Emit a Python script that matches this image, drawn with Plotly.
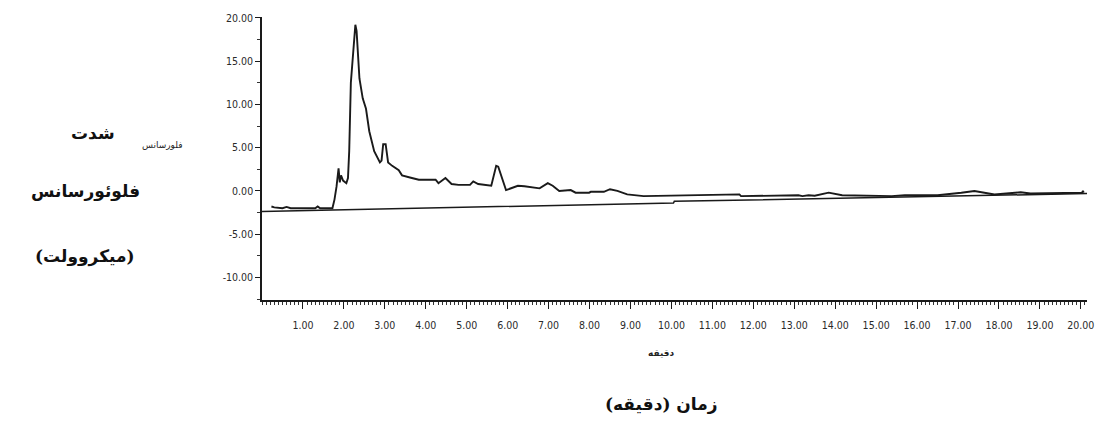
import plotly.graph_objects as go

# ---- data ----
time_min = [0.23, 0.3, 0.5, 0.6, 0.7, 1.3, 1.36, 1.42, 1.72, 1.77, 1.82, 1.87, 1.9, 1.93, 1.98,
            2.06, 2.1, 2.13, 2.17, 2.24, 2.28, 2.31, 2.35, 2.38, 2.46, 2.54, 2.62, 2.74, 2.88,
            2.92, 2.96, 3.02, 3.08, 3.18, 3.34, 3.42, 3.66, 3.83, 4.24, 4.31, 4.48, 4.63, 4.8,
            5.08, 5.16, 5.28, 5.6, 5.72, 5.77, 5.96, 6.25, 6.41, 6.78, 6.98, 7.1, 7.26, 7.54,
            7.66, 7.99, 8.03, 8.35, 8.5, 8.68, 8.92, 9.32, 11.66, 11.7, 13.1, 13.2, 13.35, 13.5,
            13.84, 14.17, 15.38, 15.7, 16.5, 17.08, 17.4, 17.89, 18.53, 18.77, 20.03, 20.05, 20.07]
signal_uv = [-1.8, -1.9, -2.0, -1.85, -2.0, -2.0, -1.8, -2.0, -2.0, -1.0, 0.5, 2.6, 1.0, 1.8, 1.2,
             0.9, 1.5, 4.6, 12.5, 17.0, 19.2, 18.5, 16.0, 13.0, 10.7, 9.5, 6.9, 4.6, 3.3,
             3.5, 5.4, 5.4, 3.3, 2.9, 2.4, 1.8, 1.5, 1.3, 1.3, 0.9, 1.5, 0.8, 0.7,
             0.7, 1.1, 0.8, 0.6, 2.9, 2.8, 0.1, 0.6, 0.55, 0.3, 0.9, 0.6, 0.0, 0.1,
             -0.2, -0.2, -0.1, -0.1, 0.2, 0.0, -0.4, -0.6, -0.4, -0.6, -0.5, -0.6, -0.5, -0.55,
             -0.2, -0.5, -0.6, -0.5, -0.5, -0.2, 0.0, -0.4, -0.15, -0.3, -0.2, 0.0, -0.2]

baseline_x = [0.0, 10.05, 10.07, 20.15]
baseline_y = [-2.36, -1.4, -1.2, -0.3]

y_ticks = [-10, -5, 0, 5, 10, 15, 20]
y_tick_text = ["-10.00", "-5.00", "0.00", "5.00", "10.00", "15.00", "20.00"]
x_ticks = list(range(1, 21))
x_tick_text = ["1.00", "2.00", "3.00", "4.00", "5.00", "6.00", "7.00", "8.00", "9.00", "10.00",
               "11.00", "12.00", "13.00", "14.00", "15.00", "16.00", "17.00", "18.00", "19.00", "20.00"]

# ---- layout geometry (pixels) ----
W, H = 1106, 428
ML, MR, MT, MB = 262, 13, 12, 128
PW, PH = W - ML - MR, H - MT - MB


def px(x):
    return (x - ML) / PW


def py(y):
    return (H - MB - y) / PH


fig = go.Figure()
fig.add_trace(go.Scatter(x=baseline_x, y=baseline_y, mode="lines",
                         line=dict(color="#1a1a1a", width=1.5), hoverinfo="skip"))
fig.add_trace(go.Scatter(x=time_min, y=signal_uv, mode="lines",
                         line=dict(color="#1a1a1a", width=1.9, shape="linear")))

tick_font = dict(family="DejaVu Sans Condensed, Liberation Sans Narrow, DejaVu Sans", size=10.5,
                 color="#2a2a2a")

fig.update_xaxes(range=[0, 20.15], showgrid=False, zeroline=False, showline=True,
                 linecolor="#1a1a1a", linewidth=1.5, ticks="outside", ticklen=7, tickwidth=1.3,
                 tickcolor="#1a1a1a", tickvals=x_ticks, ticktext=x_tick_text, tickfont=tick_font,
                 ticklabelstandoff=8,
                 minor=dict(dtick=0.1, tick0=0, ticks="outside", ticklen=3.5, tickwidth=1,
                            tickcolor="#333", showgrid=False))
fig.update_yaxes(range=[-12.6, 20.1], showgrid=False, zeroline=False, showline=True,
                 linecolor="#1a1a1a", linewidth=1.5, ticks="outside", ticklen=5, tickwidth=1.3,
                 tickcolor="#1a1a1a", tickvals=y_ticks, ticktext=y_tick_text, tickfont=tick_font,
                 minor=dict(dtick=2.5, tick0=0, ticks="outside", ticklen=3, tickwidth=1,
                            tickcolor="#333", showgrid=False))

big_font = dict(family="DejaVu Serif, DejaVu Sans, serif", size=17, color="#111")
annotations = [
    dict(text="<b>شدت</b>", x=px(92), y=py(130), font=big_font),
    dict(text="<b>فلوئورسانس</b>", x=px(84), y=py(190), font=big_font),
    dict(text="<b>(میکروولت)</b>", x=px(84), y=py(256), font=big_font),
    dict(text="فلورسانس", x=px(162), y=py(142),
         font=dict(family="DejaVu Sans", size=9, color="#222")),
    dict(text="<b>دقیقه</b>", x=px(664), y=py(354),
         font=dict(family="DejaVu Sans", size=9, color="#222")),
    dict(text="<b>زمان (دقیقه)</b>", x=px(664), y=py(406), font=big_font),
]
for a in annotations:
    fig.add_annotation(xref="paper", yref="paper", showarrow=False,
                       xanchor="center", yanchor="middle", **a)

fig.update_layout(width=W, height=H, margin=dict(l=ML, r=MR, t=MT, b=MB),
                  paper_bgcolor="white", plot_bgcolor="white", showlegend=False)

fig.write_html("out.html")
